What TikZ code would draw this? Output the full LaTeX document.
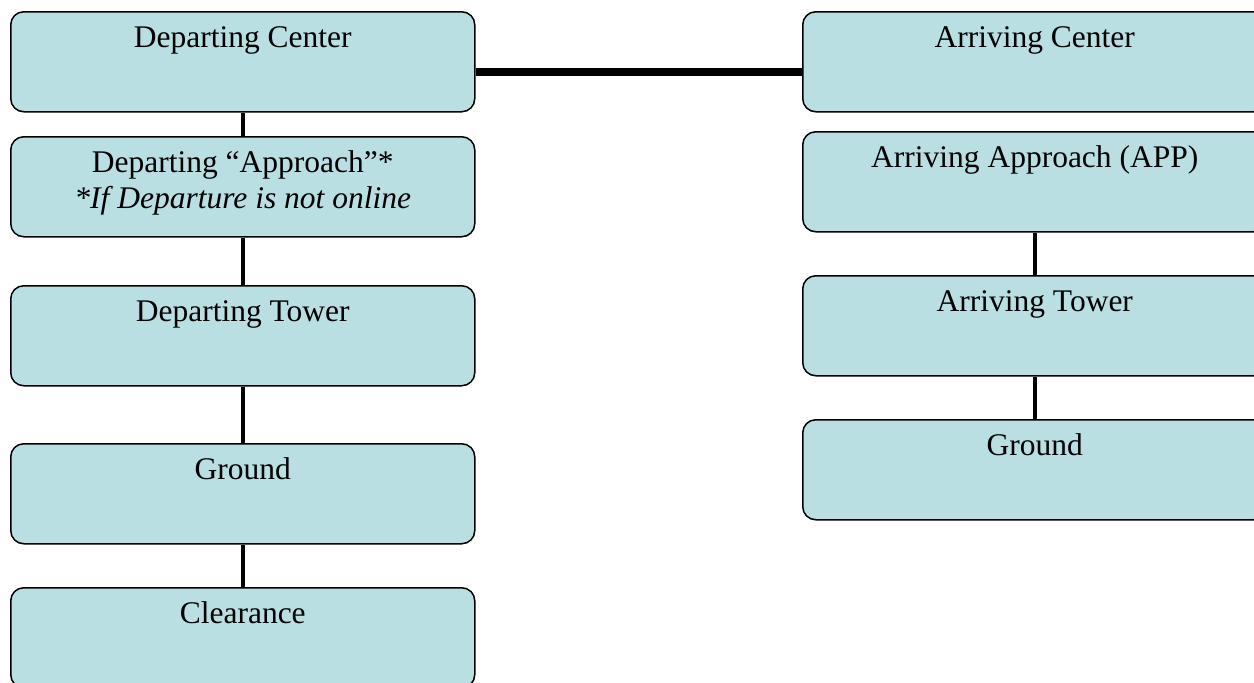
\documentclass[tikz,border=0pt]{standalone}
\usepackage{fontspec}
\setmainfont{Liberation Serif}
\definecolor{boxfill}{RGB}{185,223,227}
\begin{document}
\begin{tikzpicture}[x=1pt,y=-1pt,
  box/.style={draw=black,line width=1.5pt,fill=boxfill,rounded corners=13pt,
    minimum width=464pt,minimum height=100pt,inner sep=0pt,anchor=north west},
  lbl/.style={anchor=base,inner sep=0pt,font=\fontsize{31.5}{36}\selectfont},
  vlink/.style={line width=4.5pt},
  hlink/.style={line width=8pt}]
\useasboundingbox (0,0) rectangle (1254,683);
\clip (0,0) rectangle (1254,683);
% left column
\node[box] (L1) at (10,11) {};
\node[box] (L2) at (10,136) {};
\node[box] (L3) at (10,285) {};
\node[box] (L4) at (10,443) {};
\node[box] (L5) at (10,587) {};
% right column
\node[box] (R1) at (802,11) {};
\node[box] (R2) at (802,131) {};
\node[box] (R3) at (802,275) {};
\node[box] (R4) at (802,419) {};
% labels
\node[lbl] (t1) at ([yshift=-36pt]L1.north) {Departing Center};
\node[lbl] (t2) at ([yshift=-36pt]L2.north) {Departing “Approach”*};
\node[lbl] (t2b) at ([yshift=-72pt]L2.north) {\itshape *If Departure is not online};
\node[lbl] (t3) at ([yshift=-36pt]L3.north) {Departing Tower};
\node[lbl] (t4) at ([yshift=-36pt]L4.north) {Ground};
\node[lbl] (t5) at ([yshift=-36pt]L5.north) {Clearance};
\node[lbl] (u1) at ([yshift=-36pt]R1.north) {Arriving Center};
\node[lbl] (u2) at ([yshift=-36pt]R2.north) {Arriving Approach (APP)};
\node[lbl] (u3) at ([yshift=-36pt]R3.north) {Arriving Tower};
\node[lbl] (u4) at ([yshift=-36pt]R4.north) {Ground};
% connectors
\draw[vlink] (L1.south) -- (L2.north);
\draw[vlink] (L2.south) -- (L3.north);
\draw[vlink] (L3.south) -- (L4.north);
\draw[vlink] (L4.south) -- (L5.north);
\draw[vlink] (R2.south) -- (R3.north);
\draw[vlink] (R3.south) -- (R4.north);
\draw[hlink] ([yshift=-10.5pt]L1.east) -- ([yshift=-10.5pt]L1.east -| R1.west);
\end{tikzpicture}
\end{document}
